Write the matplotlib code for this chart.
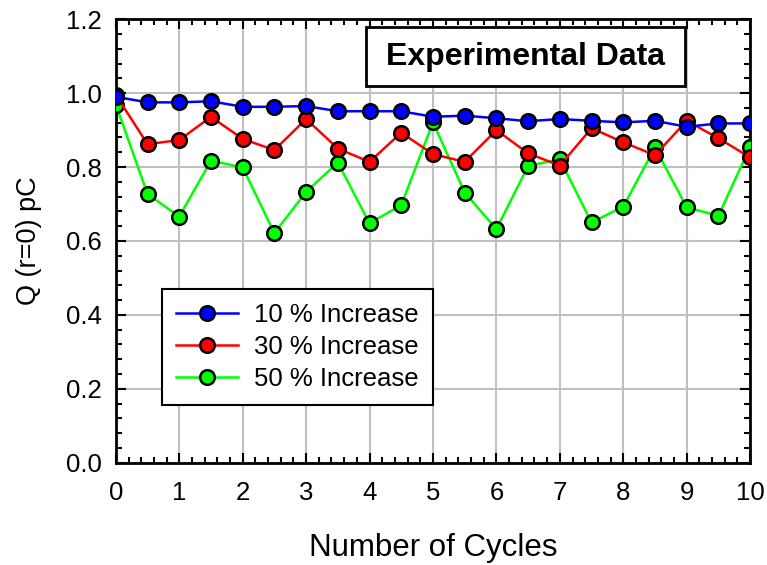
import matplotlib.pyplot as plt
from matplotlib.patches import Rectangle
from matplotlib.ticker import MultipleLocator

plt.rcParams["font.family"] = ["Liberation Sans", "DejaVu Sans"]

cycles = [0, 0.5, 1, 1.5, 2, 2.5, 3, 3.5, 4, 4.5, 5,
          5.5, 6, 6.5, 7, 7.5, 8, 8.5, 9, 9.5, 10]
inc10 = [0.990, 0.975, 0.975, 0.978, 0.963, 0.963, 0.965, 0.951, 0.951, 0.951, 0.936,
         0.939, 0.932, 0.924, 0.930, 0.925, 0.921, 0.925, 0.909, 0.918, 0.918]
inc30 = [0.995, 0.862, 0.873, 0.936, 0.876, 0.846, 0.930, 0.850, 0.814, 0.893, 0.835,
         0.814, 0.900, 0.837, 0.804, 0.905, 0.867, 0.832, 0.925, 0.878, 0.826]
inc50 = [0.969, 0.727, 0.666, 0.817, 0.799, 0.621, 0.733, 0.812, 0.648, 0.697, 0.921,
         0.731, 0.632, 0.803, 0.821, 0.650, 0.693, 0.853, 0.691, 0.668, 0.855]

fig = plt.figure(figsize=(7.67, 5.65), dpi=100)
ax = fig.add_axes([0.151, 0.181, 0.827, 0.785])

style = dict(marker="o", markersize=10.5, markeredgecolor="black",
             markeredgewidth=1.8, linewidth=1.8)
ax.plot(cycles, inc10, color="#0000ff", markerfacecolor="#0000ff", label="10 % Increase", zorder=5, **style)
ax.plot(cycles, inc30, color="#ff0000", markerfacecolor="#ff0000", label="30 % Increase", zorder=4, **style)
ax.plot(cycles, inc50, color="#00ff00", markerfacecolor="#00ff00", label="50 % Increase", zorder=3, **style)

ax.set_xlim(0, 10)
ax.set_ylim(0, 1.2)
ax.xaxis.set_major_locator(MultipleLocator(1))
ax.xaxis.set_minor_locator(MultipleLocator(0.2))
ax.yaxis.set_major_locator(MultipleLocator(0.2))
ax.yaxis.set_minor_locator(MultipleLocator(0.04))
ax.yaxis.set_major_formatter(plt.FormatStrFormatter("%.1f"))
ax.tick_params(which="both", direction="in", top=True, right=True, width=1.5, labelsize=18.5)
ax.tick_params(which="major", length=7)
ax.tick_params(which="minor", length=4)
ax.tick_params(axis="x", which="major", pad=13)
ax.tick_params(axis="y", which="major", pad=10)
for s in ax.spines.values():
    s.set_linewidth(2)

ax.grid(True, which="major", color="#c0c0c0", linewidth=1.5)
ax.set_axisbelow(True)

ax.set_xlabel("Number of Cycles", fontsize=22.5, labelpad=20)
ax.set_ylabel("Q (r=0) pC", fontsize=19.5, labelpad=17)

# boxed caption in the upper right
ax.add_patch(Rectangle((0.394, 0.849), 0.503, 0.133, transform=ax.transAxes,
                       facecolor="white", edgecolor="black", linewidth=2, zorder=10))
ax.text(0.646, 0.915, "Experimental Data", transform=ax.transAxes, fontsize=23,
        fontweight="bold", ha="center", va="center", zorder=11)

leg = ax.legend(loc="lower left", bbox_to_anchor=(0.0726, 0.131), borderaxespad=0,
                fontsize=18.5, frameon=True, fancybox=False, edgecolor="black",
                handlelength=2.4, handletextpad=0.65, borderpad=0.55, labelspacing=0.3)
leg.get_frame().set_linewidth(1.5)
leg.get_frame().set_alpha(1)

fig.savefig("out.png", dpi=100)
